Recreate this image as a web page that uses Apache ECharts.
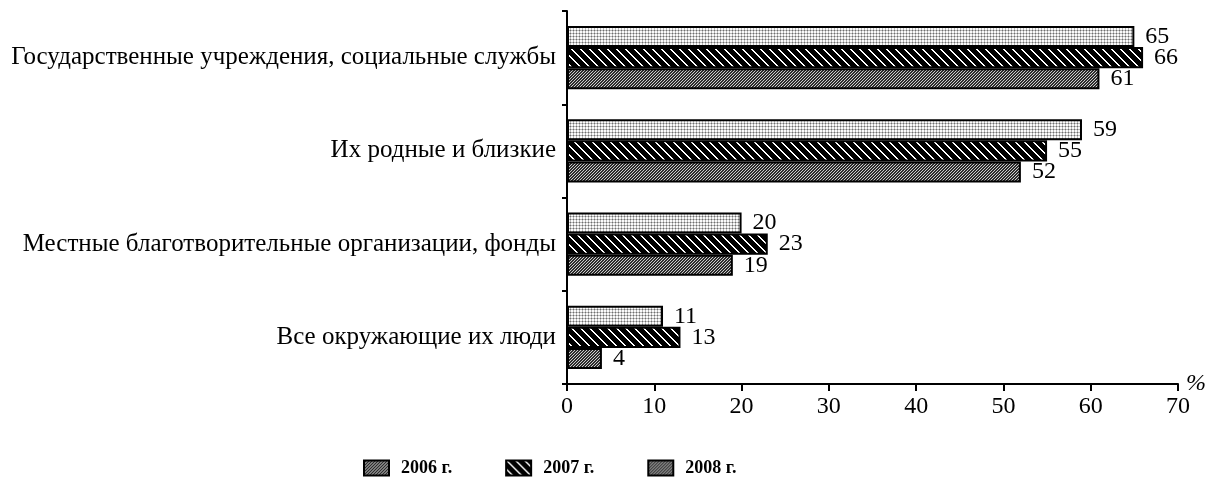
<!DOCTYPE html>
<html>
<head>
<meta charset="utf-8">
<script src="https://cdn.jsdelivr.net/npm/echarts@6/dist/echarts.min.js"></script>
<style>
html,body{margin:0;padding:0;background:#fff;}
#chart{width:1211px;height:485px;}
</style>
</head>
<body>
<div id="chart"></div>
<script>
const categories = [
  'Государственные учреждения, социальные службы',
  'Их родные и близкие',
  'Местные благотворительные организации, фонды',
  'Все окружающие их люди'
];
const seriesNames = ['2006 г.', '2007 г.', '2008 г.'];
const values2006 = [65, 59, 20, 11];
const values2007 = [66, 55, 23, 13];
const values2008 = [61, 52, 19, 4];
const xTicks = [0, 10, 20, 30, 40, 50, 60, 70];

function makePattern(size, fn) {
  const c = document.createElement('canvas');
  c.width = size; c.height = size;
  const ctx = c.getContext('2d');
  const img = ctx.createImageData(size, size);
  for (let y = 0; y < size; y++) {
    for (let x = 0; x < size; x++) {
      const v = fn(x, y);
      const i = (y * size + x) * 4;
      img.data[i] = v; img.data[i + 1] = v; img.data[i + 2] = v; img.data[i + 3] = 255;
    }
  }
  ctx.putImageData(img, 0, 0);
  return c;
}
// light dotted mesh
const pDots = makePattern(3, (x, y) => (x === 0 && y === 0) ? 110 : ((x === 0 || y === 0) ? 185 : 250));
// black with white "\" stripes
const pBack = makePattern(9, (x, y) => { const d = ((x - y) % 9 + 9) % 9; return (d === 0 || d === 1) ? 255 : 0; });
// dark gray dense "/" hatch
const pFwd = makePattern(3, (x, y) => ((x + y) % 3 === 0) ? 205 : 45);

const fills = [pDots, pBack, pFwd];
const legendFills = [pFwd, pBack, pFwd];
const font = 'Liberation Serif';

const chart = echarts.init(document.getElementById('chart'), null, {renderer: 'canvas'});
const allValues = [values2006, values2007, values2008];
const option = {
  animation: false,
  backgroundColor: '#fff',
  textStyle: {fontFamily: font, color: '#000'},
  grid: {left: 567, right: 33, top: 11, bottom: 101, containLabel: false, outerBoundsMode: 'none'},
  legend: {
    left: 358, top: 454, itemWidth: 25, itemHeight: 15, itemGap: 53,
    textStyle: {fontFamily: font, fontSize: 18, fontWeight: 'bold', color: '#000', padding: [0, 0, 0, 7]},
    data: seriesNames.map((n, i) => ({
      name: n, icon: 'rect',
      itemStyle: {color: {image: legendFills[i], repeat: 'repeat'}, borderColor: '#000', borderWidth: 2}
    }))
  },
  xAxis: {
    type: 'value', min: xTicks[0], max: xTicks[xTicks.length - 1], interval: 10,
    name: '%', nameLocation: 'end', nameGap: 8, nameMoveOverlap: false,
    nameTextStyle: {fontFamily: font, fontSize: 24, fontStyle: 'italic', color: '#000', align: 'left', verticalAlign: 'middle'},
    axisLine: {show: true, lineStyle: {color: '#000', width: 2}},
    axisTick: {show: true, length: 7, lineStyle: {color: '#000', width: 2}},
    axisLabel: {fontFamily: font, fontSize: 24, color: '#000', margin: 11},
    splitLine: {show: false}
  },
  yAxis: {
    type: 'category', data: categories, inverse: true,
    axisLine: {show: true, lineStyle: {color: '#000', width: 2}},
    axisTick: {show: true, length: 5, lineStyle: {color: '#000', width: 2}},
    axisLabel: {fontFamily: font, fontSize: 25, color: '#000', margin: 11}
  },
  series: seriesNames.map((n, i) => ({
    name: n, type: 'bar', data: allValues[i],
    barCategoryGap: '32%', barGap: '0%',
    itemStyle: {color: {image: fills[i], repeat: 'repeat'}, borderColor: '#000', borderWidth: 2},
    label: {show: true, position: 'right', distance: 11, fontFamily: font, fontSize: 24, color: '#000'}
  }))
};
chart.setOption(option);
</script>
</body>
</html>
